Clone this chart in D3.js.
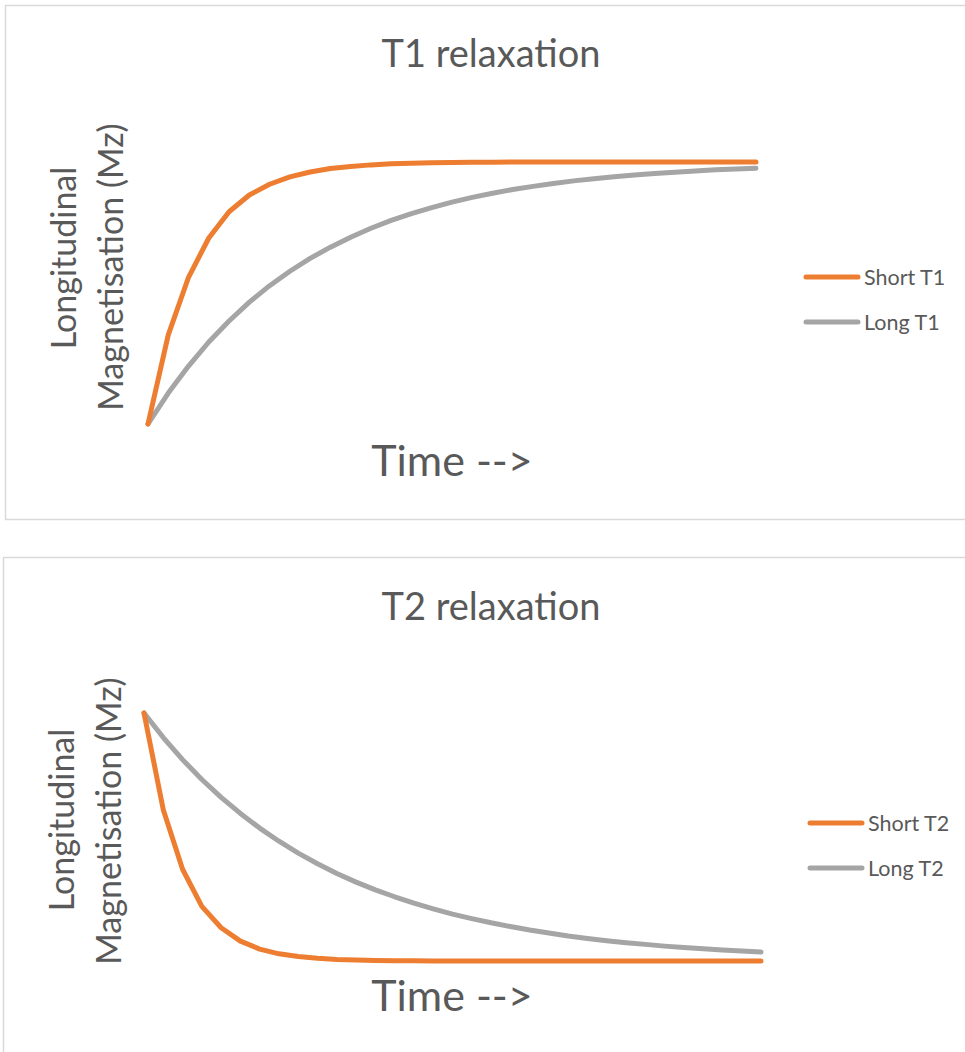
<!DOCTYPE html>
<html>
<head>
<meta charset="utf-8">
<script src="https://cdn.jsdelivr.net/npm/d3@7"></script>
<style>
  body { margin: 0; background: #fff; }
  svg { display: block; font-family: Lato, "Open Sans", sans-serif; }
</style>
</head>
<body>
<svg width="965" height="1052"></svg>
<script>
// values (fraction of full magnetisation, one per time step)
const shortT1 = [0, 0.34, 0.56, 0.71, 0.81, 0.874, 0.915, 0.943, 0.962, 0.975, 0.983,
  0.989, 0.993, 0.995, 0.997, 0.998, 0.999, 0.999, 1, 1, 1,
  1, 1, 1, 1, 1, 1, 1, 1, 1, 1];
const longT1 = [0, 0.118, 0.221, 0.313, 0.393, 0.465, 0.528, 0.583, 0.632, 0.675, 0.713,
  0.747, 0.777, 0.803, 0.826, 0.847, 0.865, 0.881, 0.895, 0.907, 0.918,
  0.928, 0.936, 0.944, 0.950, 0.956, 0.961, 0.966, 0.970, 0.973, 0.976];

const shortT2 = [1, 0.61, 0.37, 0.22, 0.134, 0.08, 0.048, 0.029, 0.018, 0.011, 0.0065,
  0.004, 0.0024, 0.0015, 0.0009, 0.0005, 0.0003, 0.0002, 0.0001, 0, 0,
  0, 0, 0, 0, 0, 0, 0, 0, 0, 0, 0, 0];
const longT2 = [1, 0.901, 0.812, 0.732, 0.660, 0.595, 0.536, 0.483, 0.435, 0.392, 0.353,
  0.318, 0.287, 0.259, 0.233, 0.210, 0.189, 0.171, 0.154, 0.139, 0.125,
  0.113, 0.101, 0.091, 0.082, 0.074, 0.067, 0.060, 0.054, 0.049, 0.044,
  0.040, 0.036];

const seriesNames1 = ['Short T1', 'Long T1'];
const seriesNames2 = ['Short T2', 'Long T2'];
const titles = ['T1 relaxation', 'T2 relaxation'];
const xTitle = 'Time -->';
const yTitle = ['Longitudinal', 'Magnetisation (Mz)'];

const colors = ['#ED7D31', '#A5A5A5'];
const textColor = '#595959';

const svg = d3.select('svg');

const panels = [
  {
    frame: { x: 5.5, y: 5.5, h: 514 },
    title: titles[0], titleY: 67,
    plot: { x0: 148, x1: 756, yTop: 162, yBot: 424 },
    series: [shortT1, longT1], names: seriesNames1,
    xTitleY: 476,
    yT: [{ x: 76, y: 258 }, { x: 123, y: 267 }],
    legend: { x: 806, y: [277, 322] }
  },
  {
    frame: { x: 3.5, y: 557.5, h: 600 },
    title: titles[1], titleY: 620,
    plot: { x0: 144, x1: 761, yTop: 713, yBot: 961 },
    series: [shortT2, longT2], names: seriesNames2,
    xTitleY: 1011,
    yT: [{ x: 74, y: 820 }, { x: 121, y: 821 }],
    legend: { x: 810, y: [823, 868] }
  }
];

panels.forEach(p => {
  const g = svg.append('g');

  g.append('rect')
    .attr('x', p.frame.x).attr('y', p.frame.y)
    .attr('width', 1000).attr('height', p.frame.h)
    .attr('fill', '#fff')
    .attr('stroke', '#d9d9d9')
    .attr('stroke-width', 1.5);

  g.append('text')
    .attr('x', 491).attr('y', p.titleY)
    .attr('text-anchor', 'middle')
    .attr('font-size', 38)
    .attr('fill', textColor)
    .text(p.title);

  const n = p.series[0].length;
  const x = d3.scaleLinear().domain([0, n - 1]).range([p.plot.x0, p.plot.x1]);
  const y = d3.scaleLinear().domain([0, 1]).range([p.plot.yBot, p.plot.yTop]);

  const line = d3.line()
    .x((d, i) => x(i))
    .y(d => y(d));

  // long series drawn first so the orange sits on top
  [1, 0].forEach(k => {
    g.append('path')
      .datum(p.series[k])
      .attr('d', line)
      .attr('fill', 'none')
      .attr('stroke', colors[k])
      .attr('stroke-width', 5)
      .attr('stroke-linejoin', 'round')
      .attr('stroke-linecap', 'round');
  });

  g.append('text')
    .attr('x', 452).attr('y', p.xTitleY)
    .attr('text-anchor', 'middle')
    .attr('font-size', 43)
    .attr('fill', textColor)
    .text(xTitle);

  yTitle.forEach((t, i) => {
    g.append('text')
      .attr('transform', `translate(${p.yT[i].x},${p.yT[i].y}) rotate(-90)`)
      .attr('text-anchor', 'middle')
      .attr('font-size', 34)
      .attr('fill', textColor)
      .text(t);
  });

  p.names.forEach((name, i) => {
    const ly = p.legend.y[i];
    g.append('line')
      .attr('x1', p.legend.x).attr('x2', p.legend.x + 52)
      .attr('y1', ly).attr('y2', ly)
      .attr('stroke', colors[i])
      .attr('stroke-width', 5)
      .attr('stroke-linecap', 'round');
    g.append('text')
      .attr('x', p.legend.x + 58).attr('y', ly + 8)
      .attr('font-size', 21.5)
      .attr('fill', textColor)
      .text(name);
  });
});
</script>
</body>
</html>
